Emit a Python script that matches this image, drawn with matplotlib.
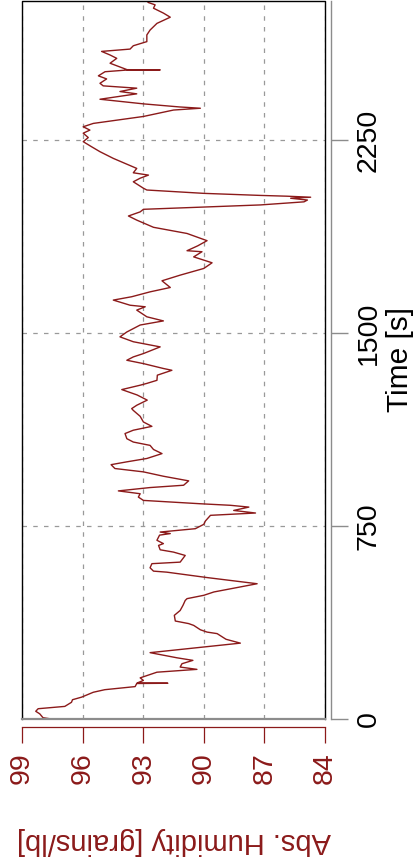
import matplotlib
matplotlib.use("Agg")
import matplotlib.pyplot as plt

plt.rcParams['font.family'] = ['Liberation Sans', 'DejaVu Sans']

# time [s] and absolute humidity [grains/lb]
time_s = [0, 5, 20, 30, 40, 49, 65, 75, 85, 104, 114, 126, 138, 139, 140, 150, 160,
          182, 193, 202, 215, 228, 238, 243, 258, 295, 310, 332, 338, 347, 364, 371,
          381, 403, 422, 442, 461, 468, 481, 494, 516, 526, 550, 571, 575, 588, 604,
          610, 636, 649, 658, 675, 682, 695, 715, 721, 727, 740, 757, 770, 792, 801,
          811, 824, 831, 837, 850, 863, 876, 887, 900, 909, 926, 944, 961, 974, 989,
          1000, 1013, 1032, 1048, 1064, 1077, 1090, 1110, 1123, 1138, 1155, 1177,
          1200, 1207, 1220, 1240, 1260, 1281, 1298, 1305, 1317, 1337, 1356, 1363,
          1382, 1395, 1408, 1421, 1447, 1467, 1486, 1505, 1532, 1548, 1564, 1590,
          1603, 1609, 1629, 1642, 1661, 1678, 1704, 1726, 1752, 1774, 1797, 1817,
          1821, 1840, 1860, 1888, 1912, 1940, 1956, 1972, 1982, 1999, 2011, 2018,
          2025, 2029, 2033, 2036, 2044, 2057, 2064, 2089, 2103, 2115, 2124, 2141,
          2180, 2206, 2225, 2245, 2261, 2278, 2290, 2303, 2316, 2332, 2343, 2368,
          2375, 2380, 2392, 2410, 2431, 2440, 2453, 2462, 2472, 2489, 2501, 2517,
          2524, 2524, 2525, 2550, 2569, 2582, 2596, 2605, 2618, 2634, 2660, 2679,
          2705, 2729, 2745, 2764, 2777, 2786, 2792]
abs_hum = [97.54, 97.96, 98.12, 98.32, 98.2, 96.88, 96.55, 96.5, 96.05, 95.47, 94.9,
           93.4, 93.32, 91.78, 93.3, 92.99, 93.15, 92.32, 90.34, 91.17, 91.08, 90.54,
           91.33, 91.66, 92.66, 88.19, 88.9, 89.34, 89.84, 90.17, 90.5, 90.75, 91.41,
           91.46, 91.17, 91.03, 90.92, 90.83, 90.0, 89.5, 88.02, 87.36, 89.84, 91.83,
           92.49, 92.66, 92.57, 91.17, 90.92, 91.5, 92.16, 92.24, 92.0, 92.32, 92.19,
           91.66, 92.16, 90.42, 90.0, 89.92, 89.67, 87.44, 88.52, 87.77, 88.68, 90.17,
           92.99, 93.24, 93.15, 94.23, 92.66, 91.0, 90.75, 92.0, 92.99, 94.4, 94.59,
           93.81, 92.82, 92.07, 92.49, 92.66, 93.49, 93.81, 93.9, 93.49, 92.57, 92.99,
           93.15, 93.49, 93.57, 93.32, 92.8, 93.3, 94.06, 93.15, 92.82, 92.32, 92.3,
           91.58, 92.0, 92.99, 93.81, 93.49, 92.99, 92.16, 93.49, 94.15, 93.81, 93.15,
           92.0, 92.82, 93.32, 92.9, 93.65, 94.48, 93.57, 92.66, 91.66, 92.07, 91.17,
           90.0, 89.59, 90.5, 90.09, 90.83, 90.3, 89.84, 90.83, 92.49, 93.32, 93.73,
           93.15, 92.99, 87.2, 85.04, 84.87, 85.7, 84.71, 85.9, 87.2, 90.0, 92.82,
           92.99, 93.49, 93.15, 92.74, 93.49, 93.32, 94.48, 95.14, 95.55, 95.97, 95.72,
           95.97, 95.64, 95.97, 95.47, 93.98, 92.99, 91.5, 90.17, 91.2, 92.99, 95.14,
           93.32, 94.15, 93.32, 94.98, 95.14, 94.81, 95.22, 94.89, 93.73, 92.16, 93.8,
           94.64, 94.31, 94.64, 95.06, 93.65, 93.49, 92.82, 92.82, 92.66, 92.32, 91.66,
           92.0, 92.49, 92.41, 92.74, 92.82]

hum_ticks = [99, 96, 93, 90, 87, 84]
time_ticks = [0, 750, 1500, 2250]

red = '#8B1A1A'
grey = '#8c8c8c'

fig = plt.figure(figsize=(4.14, 8.64), dpi=100)
ax = fig.add_axes([22 / 414, 1 - 719 / 864, 303 / 414, 718 / 864])

ax.plot(abs_hum, time_s, color=red, lw=1.0)
ax.set_xlim(99, 84)
ax.set_ylim(0, 2792)

ax.set_xticks(hum_ticks)
ax.set_yticks(time_ticks)
ax.grid(True, color='#999999', lw=0.9, linestyle=(0, (3.6, 5)))

# frame of the plot region
ax.plot([0, 0, 1, 1], [0, 1, 1, 0], transform=ax.transAxes, color='black', lw=1, clip_on=False)
ax.plot([0, 1], [0, 0], transform=ax.transAxes, color=grey, lw=1.6, clip_on=False)

for s in ['left', 'top']:
    ax.spines[s].set_visible(False)
ax.spines['right'].set_position(('outward', 4.3))
ax.spines['right'].set_color(grey)
ax.spines['right'].set_linewidth(1)
ax.spines['bottom'].set_position(('outward', 5.8))
ax.spines['bottom'].set_color(red)
ax.spines['bottom'].set_linewidth(0.9)

ax.yaxis.tick_right()
ax.yaxis.set_label_position('right')
ax.tick_params(axis='y', length=12.2, width=1, color=grey, labelsize=20.5,
               labelrotation=90, pad=5.5, labelcolor='black')
ax.tick_params(axis='x', length=11.5, width=0.9, color=red, labelsize=20.5,
               labelrotation=90, pad=6.5, labelcolor=red)
for lbl in ax.get_yticklabels():
    lbl.set_va('center')

ax.set_ylabel('Time [s]', fontsize=21.5, rotation=90, va='center', ha='center')
ax.yaxis.set_label_coords((400 - 22) / 303, 0.5)
ax.set_xlabel('Abs. Humidity [grains/lb]', fontsize=21, rotation=180, color=red,
              va='center', ha='center')
ax.xaxis.set_label_coords(0.5, (719 - 841) / 718)

fig.savefig('out.png', dpi=100)
